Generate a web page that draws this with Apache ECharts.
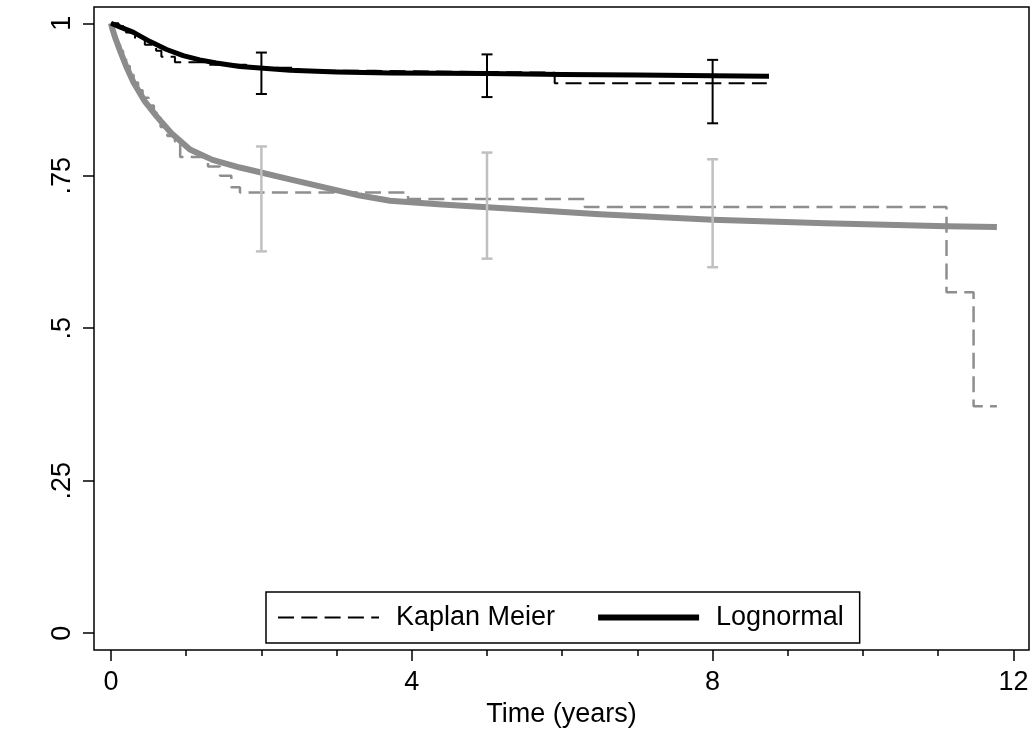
<!DOCTYPE html>
<html>
<head>
<meta charset="utf-8">
<script src="https://cdn.jsdelivr.net/npm/echarts@6/dist/echarts.min.js"></script>
<style>
html,body{margin:0;padding:0;background:#fff;}
#chart{width:1035px;height:733px;}
</style>
</head>
<body>
<div id="chart"></div>
<script>
// ---- Data ----
// Group 1 (black): Kaplan Meier step estimate
const kmBlackT = [0, 0.1, 0.2, 0.32, 0.45, 0.6, 0.67, 0.85, 1.3, 1.8, 2.5, 3.5, 5.9, 8.72];
const kmBlackS = [1, 0.995, 0.985, 0.975, 0.965, 0.955, 0.945, 0.936, 0.932, 0.927, 0.922, 0.919, 0.9018, 0.9018];
// Group 1 (black): Lognormal fitted survival
const lnBlackT = [0, 0.1, 0.3, 0.52, 0.74, 0.96, 1.18, 1.4, 1.715, 2.38, 3, 3.71, 5, 6, 7, 8, 8.75];
const lnBlackS = [1, 0.995, 0.985, 0.97, 0.957, 0.947, 0.94, 0.935, 0.929, 0.923, 0.92, 0.9185, 0.9175, 0.916, 0.915, 0.914, 0.913];
// Group 2 (grey): Kaplan Meier step estimate
const kmGreyT = [0, 0.02, 0.04, 0.06, 0.09, 0.12, 0.16, 0.2, 0.25, 0.3, 0.36, 0.42, 0.5, 0.57, 0.66, 0.75, 0.85, 0.92, 1.29, 1.45, 1.6, 1.715, 3.95, 6.30, 11.11, 11.47, 11.78];
const kmGreyS = [1, 0.99, 0.982, 0.975, 0.965, 0.955, 0.942, 0.93, 0.916, 0.903, 0.89, 0.878, 0.865, 0.853, 0.83, 0.815, 0.806, 0.7806, 0.765, 0.75, 0.731, 0.7226, 0.7118, 0.6987, 0.559, 0.372, 0.372];
// Group 2 (grey): Lognormal fitted survival
const lnGreyT = [0, 0.02, 0.06, 0.12, 0.2, 0.3, 0.45, 0.61, 0.8, 1.05, 1.35, 1.715, 2.38, 3.31, 3.71, 4.4, 5.17, 6.5, 8.0, 9.5, 11.11, 11.78];
const lnGreyS = [1, 0.99, 0.975, 0.955, 0.93, 0.903, 0.872, 0.847, 0.82, 0.793, 0.776, 0.7635, 0.744, 0.7175, 0.709, 0.703, 0.697, 0.687, 0.678, 0.672, 0.667, 0.666];
// Confidence intervals
const ciTimes = [2, 5, 8];
const ciBlackLower = [0.884, 0.879, 0.836];
const ciBlackUpper = [0.952, 0.949, 0.940];
const ciGreyLower = [0.626, 0.614, 0.600];
const ciGreyUpper = [0.798, 0.788, 0.777];
// Ticks and labels
const yTickValues = [0, 0.25, 0.5, 0.75, 1];
const yTickLabels = ['0', '.25', '.5', '.75', '1'];
const xTickValues = [0, 4, 8, 12];
const xTickLabels = ['0', '4', '8', '12'];
const xMinorTickValues = [1, 2, 3, 5, 6, 7, 9, 10, 11];
const legendNames = ['Kaplan Meier', 'Lognormal'];
const xTitle = 'Time (years)';
// Axis ranges (plot region padding beyond the data range, as in the reference)
const xRange = [-0.226, 12.207];
const yRange = [-0.0278, 1.0267];

// ---- Build chart ----
const pairs = (t, s) => t.map((v, i) => [v, s[i]]);
const ci = (lo, hi) => ciTimes.map((t, i) => [t, lo[i], hi[i]]);
const FONT = 'Liberation Sans, Arial, sans-serif';
const FS = 27;

function errBar(color, width) {
  return function (params, api) {
    const x = api.value(0), lo = api.value(1), hi = api.value(2);
    const a = api.coord([x, lo]), b = api.coord([x, hi]);
    const hw = 5.5;
    const st = { stroke: color, lineWidth: width, fill: null };
    return {
      type: 'group',
      children: [
        { type: 'line', shape: { x1: a[0], y1: a[1], x2: b[0], y2: b[1] }, style: st },
        { type: 'line', shape: { x1: a[0] - hw, y1: a[1], x2: a[0] + hw, y2: a[1] }, style: st },
        { type: 'line', shape: { x1: b[0] - hw, y1: b[1], x2: b[0] + hw, y2: b[1] }, style: st }
      ]
    };
  };
}

const chart = echarts.init(document.getElementById('chart'), null, { renderer: 'canvas' });
const tickStyle = { color: '#000', width: 1.5 };
const option = {
  animation: false,
  backgroundColor: '#fff',
  textStyle: { fontFamily: FONT },
  grid: {
    left: 94, right: 6, top: 7, bottom: 82, containLabel: false,
    show: true, borderColor: '#000', borderWidth: 1.5, backgroundColor: 'transparent'
  },
  xAxis: [
    {
      type: 'value', position: 'bottom', min: xRange[0], max: xRange[1],
      axisLine: { show: false, onZero: false },
      axisTick: { show: true, length: 11, lineStyle: tickStyle, customValues: xTickValues },
      splitLine: { show: false },
      axisLabel: {
        fontSize: FS, color: '#000', fontFamily: FONT, margin: 19,
        customValues: xTickValues,
        formatter: v => { const i = xTickValues.findIndex(t => Math.abs(t - v) < 1e-9); return i >= 0 ? xTickLabels[i] : ''; }
      },
      name: xTitle, nameLocation: 'middle', nameGap: 46,
      nameTextStyle: { fontSize: FS, color: '#000', fontFamily: FONT }
    },
    {
      type: 'value', position: 'bottom', offset: 0, min: xRange[0], max: xRange[1],
      axisLine: { show: false, onZero: false },
      axisTick: { show: true, length: 6, lineStyle: tickStyle, customValues: xMinorTickValues },
      axisLabel: { show: false, customValues: xMinorTickValues },
      splitLine: { show: false }
    }
  ],
  yAxis: [
    {
      type: 'value', min: yRange[0], max: yRange[1],
      axisLine: { show: false, onZero: false },
      axisTick: { show: true, length: 11, lineStyle: tickStyle, customValues: yTickValues },
      splitLine: { show: false },
      axisLabel: {
        fontSize: FS, color: '#000', fontFamily: FONT, rotate: 90, margin: 18,
        customValues: yTickValues,
        formatter: v => { const i = yTickValues.findIndex(t => Math.abs(t - v) < 1e-9); return i >= 0 ? yTickLabels[i] : ''; }
      }
    }
  ],
  legend: {
    data: [
      { name: legendNames[0], lineStyle: { width: 2, type: [16, 7.3], color: '#000' }, itemStyle: { opacity: 0 } },
      { name: legendNames[1], lineStyle: { width: 6, type: 'solid', color: '#000' }, itemStyle: { opacity: 0 } }
    ],
    left: 266, top: 592,
    orient: 'horizontal',
    itemWidth: 101, itemHeight: 14, itemGap: 40,
    padding: [12, 16, 12, 11],
    borderColor: '#000', borderWidth: 1.5,
    selectedMode: false,
    textStyle: { fontSize: FS, color: '#000', fontFamily: FONT, padding: [0, 0, 0, 12] }
  },
  series: [
    {
      name: 'Kaplan Meier (group 2)', type: 'line', step: 'end',
      data: pairs(kmGreyT, kmGreyS), symbol: 'none', clip: false,
      lineStyle: { color: '#8e8e8e', width: 2.5, type: [16, 7.3] }
    },
    {
      name: 'Lognormal (group 2)', type: 'line',
      data: pairs(lnGreyT, lnGreyS), symbol: 'none', clip: false,
      lineStyle: { color: '#8c8c8c', width: 6, cap: 'butt', join: 'round' }
    },
    {
      name: 'Kaplan Meier', type: 'line', step: 'end',
      data: pairs(kmBlackT, kmBlackS), symbol: 'none', clip: false,
      color: '#000',
      lineStyle: { color: '#000', width: 2, type: [16, 7.3] }
    },
    {
      name: 'Lognormal', type: 'line',
      data: pairs(lnBlackT, lnBlackS), symbol: 'none', clip: false,
      color: '#000',
      lineStyle: { color: '#000', width: 5, cap: 'butt', join: 'round' }
    },
    {
      name: 'CI (group 2)', type: 'custom',
      data: ci(ciGreyLower, ciGreyUpper), encode: { x: 0, y: [1, 2] },
      renderItem: errBar('#c0c0c0', 2.5), clip: false, z: 5
    },
    {
      name: 'CI (group 1)', type: 'custom',
      data: ci(ciBlackLower, ciBlackUpper), encode: { x: 0, y: [1, 2] },
      renderItem: errBar('#000', 2), clip: false, z: 5
    }
  ]
};
chart.setOption(option);
</script>
</body>
</html>
